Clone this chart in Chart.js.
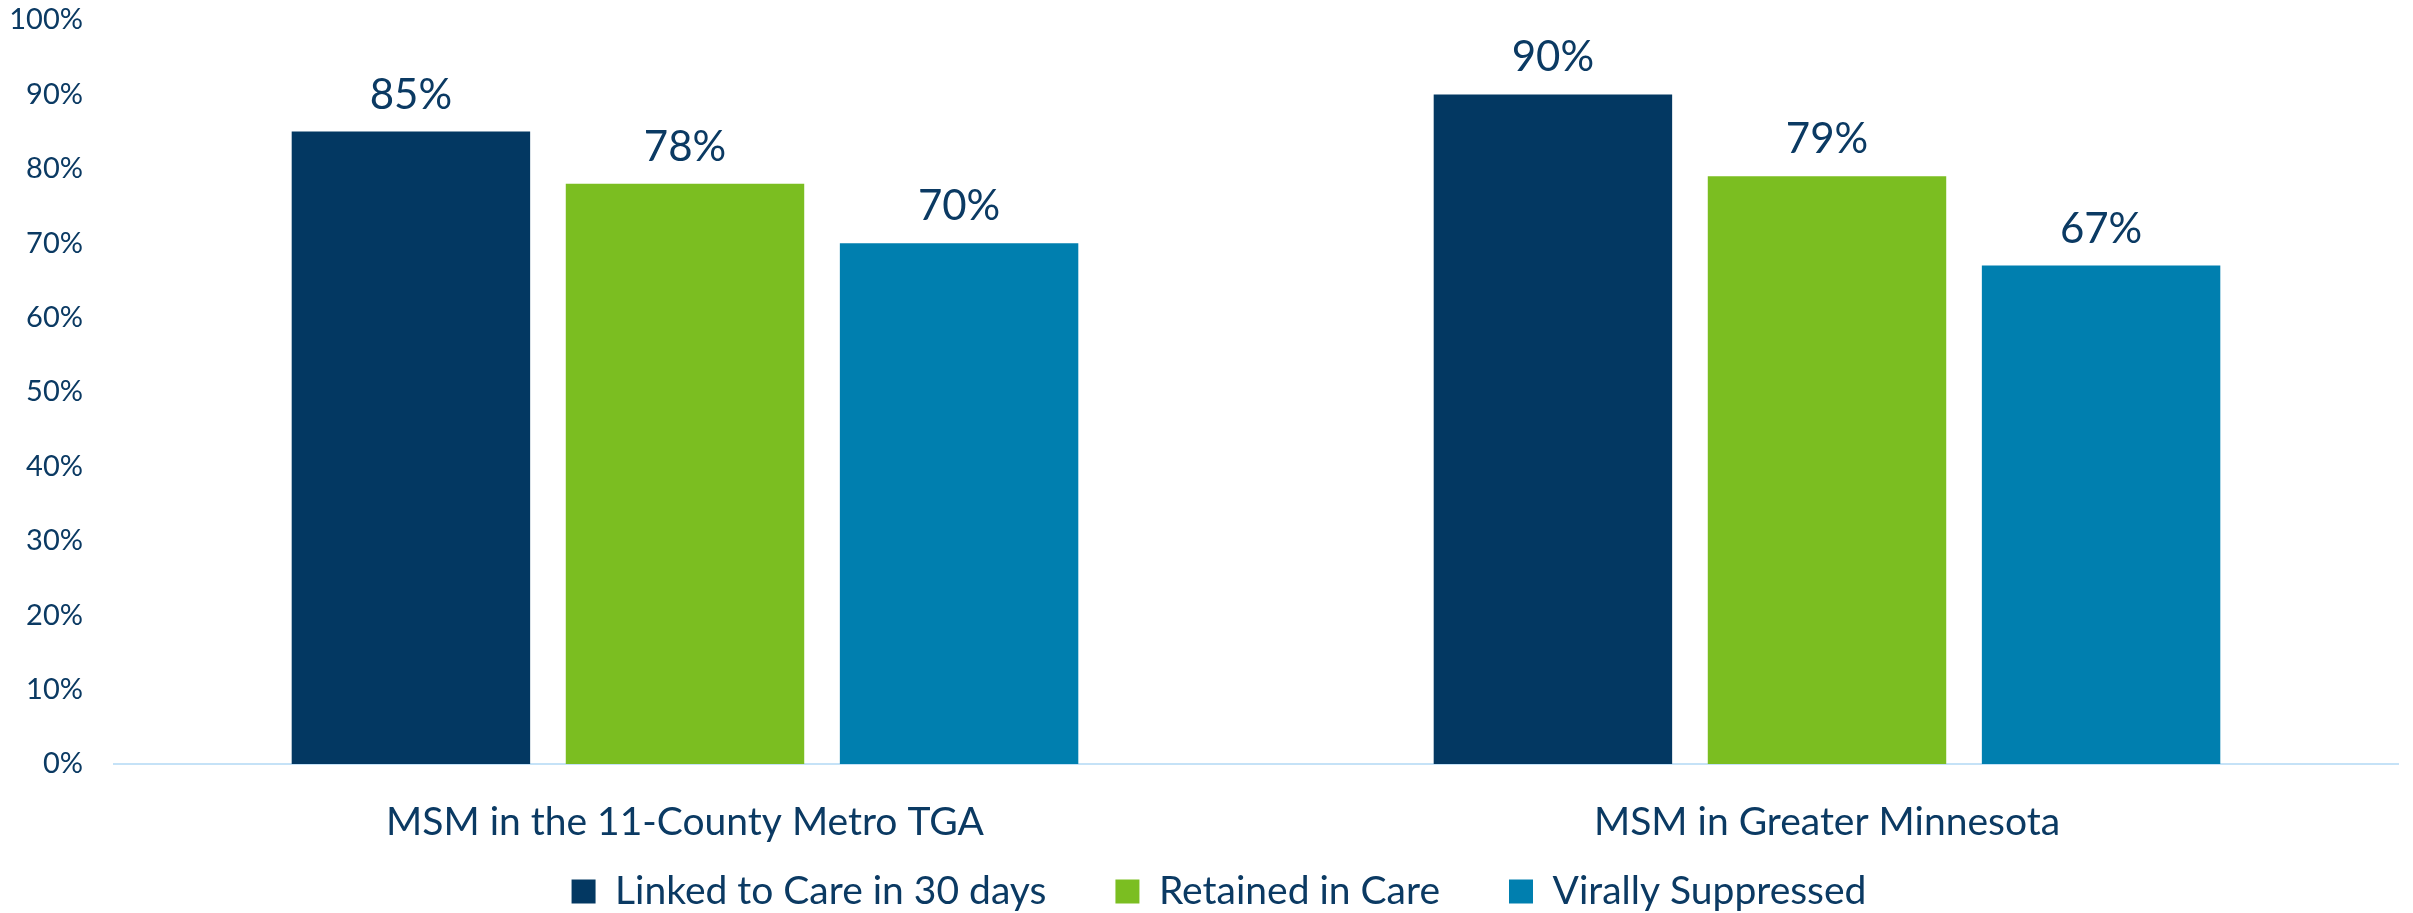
<!DOCTYPE html>
<html>
<head>
<meta charset="utf-8">
<script src="https://cdn.jsdelivr.net/npm/chart.js@4"></script>
<style>
    html, body { margin: 0; padding: 0; background: #ffffff; }
    #wrap { width: 2413px; height: 913px; }
</style>
</head>
<body>
<div id="wrap"><canvas id="careChart"></canvas></div>
<script>
// Chart data
const categories = ['MSM in the 11-County Metro TGA', 'MSM in Greater Minnesota'];
const linkedToCare = [85, 90];
const retainedInCare = [78, 79];
const virallySuppressed = [70, 67];
const yTicks = [0, 10, 20, 30, 40, 50, 60, 70, 80, 90, 100];

const textColor = '#0B3A63';
const fontFamily = 'Lato, "Open Sans", sans-serif';

/**
 * Draw the value labels above each bar
 */
const valueLabels = {
    id: 'valueLabels',
    afterDatasetsDraw(chart) {
        const ctx = chart.ctx;
        ctx.save();
        ctx.font = '42px ' + fontFamily;
        ctx.fillStyle = textColor;
        ctx.textAlign = 'center';
        ctx.textBaseline = 'alphabetic';
        chart.data.datasets.forEach((ds, i) => {
            chart.getDatasetMeta(i).data.forEach((bar, j) => {
                ctx.fillText(ds.data[j] + '%', bar.x, bar.y - 23);
            });
        });
        ctx.restore();
    }
};

document.addEventListener('DOMContentLoaded', function() {
    const ctx = document.getElementById('careChart').getContext('2d');
    window.careChart = new Chart(ctx, {
        type: 'bar',
        data: {
            labels: categories,
            datasets: [
                { label: 'Linked to Care in 30 days', data: linkedToCare, backgroundColor: '#033862' },
                { label: 'Retained in Care', data: retainedInCare, backgroundColor: '#7BBE21' },
                { label: 'Virally Suppressed', data: virallySuppressed, backgroundColor: '#007FAF' }
            ]
        },
        options: {
            responsive: true,
            maintainAspectRatio: false,
            animation: false,
            // left padding shifts the legend centre; negative bottom pushes the legend down
            layout: { padding: { top: 20, right: 15, left: 40, bottom: -8 } },
            datasets: {
                bar: { categoryPercentage: 0.72, barPercentage: 0.87 }
            },
            scales: {
                x: {
                    grid: { display: false, drawTicks: false },
                    border: { display: true, color: '#C5E2F7', width: 2 },
                    ticks: {
                        color: textColor,
                        padding: 35,
                        font: { family: fontFamily, size: 39 }
                    },
                    afterFit(scale) {
                        scale.height = 39;
                        // let the category labels run below the short axis box
                        scale._computeLabelArea = () => undefined;
                    }
                },
                y: {
                    min: 0,
                    max: 100,
                    afterBuildTicks(scale) { scale.ticks = yTicks.map(v => ({ value: v })); },
                    grid: { display: false, drawTicks: false },
                    border: { display: false },
                    ticks: {
                        color: textColor,
                        padding: 31,
                        font: { family: fontFamily, size: 29 },
                        callback: v => v + '%'
                    },
                    afterFit(scale) {
                        scale.width = 74;
                        scale.paddingTop = 16;
                        scale.paddingBottom = 16;
                        scale._computeLabelArea = () => undefined;
                    }
                }
            },
            plugins: {
                legend: {
                    position: 'bottom',
                    labels: {
                        color: textColor,
                        boxWidth: 24,
                        boxHeight: 24,
                        padding: 69,
                        font: { family: fontFamily, size: 39 }
                    }
                },
                tooltip: { enabled: false }
            }
        },
        plugins: [valueLabels]
    });
});
</script>
</body>
</html>
